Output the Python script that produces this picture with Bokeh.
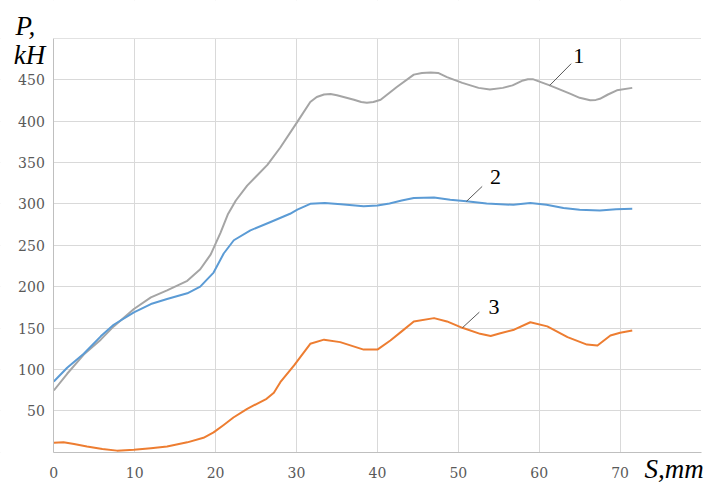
from bokeh.plotting import figure
from bokeh.models import FixedTicker, Label, BoxAnnotation
from bokeh.embed import file_html
from bokeh.resources import INLINE

# ---- data ----
s1 = [0, 1.65, 3.7, 5.8, 7.4, 9.9, 12.0, 14.0, 16.5, 18.1, 19.4, 20.6, 21.5, 22.5, 23.9, 25.0,
      26.4, 28.0, 30.1, 31.7, 32.5, 33.4, 34.2, 35.0, 37.1, 38.0, 38.7, 39.5, 40.4, 42.4, 44.5,
      45.5, 46.6, 47.5, 48.6, 50.5, 52.5, 53.9, 55.5, 56.7, 58.0, 58.6, 59.2, 60.2, 61.3, 63.8,
      65.0, 66.3, 67.0, 67.5, 68.5, 69.6, 71.5]
p1 = [74.6, 94.8, 118, 136, 152, 173, 187, 195.5, 207, 221, 239, 265, 287, 304, 322, 333,
      347, 368, 399, 423, 429, 432, 432.5, 431, 425.6, 423, 422, 423, 425.6, 441, 456,
      458, 458.5, 458, 453, 446, 440, 438, 440, 443, 449, 450.5, 450.5, 447, 443, 433,
      428, 425, 425.5, 426.8, 432, 437, 440]

s2 = [0, 1.65, 3.7, 5.8, 7.4, 9.9, 12.0, 14.0, 16.5, 18.1, 19.75, 21.0, 22.25, 24.3, 26.8,
      29.2, 30.1, 31.7, 33.5, 35.5, 38.3, 40.0, 41.5, 43.0, 44.5, 47.0, 49.0, 51.0, 53.5,
      56.8, 58.9, 60.9, 63.0, 65.0, 67.5, 69.5, 71.5]
p2 = [85.5, 102, 119, 140, 154, 169, 179, 185, 192, 200, 217, 240, 256, 268, 278,
      288, 293, 300, 301, 299.5, 297, 298, 300.5, 304, 307, 307.5, 305, 303, 300.5,
      298.8, 301, 299, 295, 292.8, 292, 293.5, 294]

s3 = [0, 1.2, 2.5, 4.1, 6.0, 7.8, 9.9, 12.0, 14.0, 16.5, 18.5, 19.75, 21.0, 22.2, 23.9, 26.3,
      27.2, 28.0, 29.7, 31.7, 33.4, 35.4, 38.3, 40.0, 41.6, 43.0, 44.5, 47.0, 48.6, 50.5,
      52.7, 54.0, 55.2, 56.9, 58.9, 61.0, 63.5, 65.9, 67.2, 68.8, 70.0, 71.5]
p3 = [11.4, 12.2, 10, 7, 4, 2, 3, 5, 7, 12, 17.5, 24, 33, 42, 52.5, 64.6,
      72, 84.6, 105, 131, 136, 133, 124, 124, 135, 146, 158, 162, 158, 150.3,
      143, 140.5, 143.8, 148, 157, 152, 139, 130, 129, 141, 144.3, 147]

x_ticks = [0, 10, 20, 30, 40, 50, 60, 70]
y_ticks = [0, 50, 100, 150, 200, 250, 300, 350, 400, 450, 500]
X_MAX = 80
Y_MAX = 500

# curve callouts
call_text = ["1", "2", "3"]
call_x0 = [61.3, 51.0, 50.5]
call_y0 = [443.0, 302.9, 150.3]
call_x1 = [63.95, 52.95, 52.6]
call_y1 = [469.2, 321.0, 169.2]
call_tx = [64.9, 54.6, 54.4]
call_ty = [478.9, 331.9, 174.9]

GRAY = "#a5a5a5"
BLUE = "#5b9bd5"
ORANGE = "#ed7d31"

# the frame covers the whole canvas; the axes sit at x=0 / y=0
p = figure(width=712, height=484, x_range=(-6.59, 81.42), y_range=(-38.9, 545.5),
           output_backend="svg", toolbar_location=None,
           min_border_left=0, min_border_right=0, min_border_top=0, min_border_bottom=0)
p.outline_line_color = None
p.background_fill_color = "white"
p.border_fill_color = "white"

p.xaxis.ticker = FixedTicker(ticks=x_ticks)
p.yaxis.ticker = FixedTicker(ticks=y_ticks)
p.yaxis.major_label_overrides = {0: "", 500: ""}
p.xaxis.fixed_location = 0
p.yaxis.fixed_location = 0
p.xaxis.bounds = (0, X_MAX)
p.yaxis.bounds = (0, Y_MAX)

for ax in (p.xaxis[0], p.yaxis[0]):
    ax.axis_line_color = "#bfbfbf"
    ax.axis_line_width = 1
    ax.major_tick_in = 0
    ax.major_tick_out = 0
    ax.minor_tick_in = 0
    ax.minor_tick_out = 0
    ax.major_label_text_font = "DejaVu Serif"
    ax.major_label_text_font_size = "14px"
    ax.major_label_text_color = "#595959"
p.yaxis.major_label_standoff = 9
p.xaxis.major_label_standoff = 15

p.xgrid.grid_line_color = "#d9d9d9"
p.ygrid.grid_line_color = "#d9d9d9"

# mask grid lines outside the plotting area
for kw in (dict(right=0), dict(left=X_MAX), dict(top=0), dict(bottom=Y_MAX)):
    p.add_layout(BoxAnnotation(**kw, fill_color="white", fill_alpha=1.0, line_color=None,
                               level="underlay"))

p.line(s1, p1, line_color=GRAY, line_width=2, line_join="round")
p.line(s2, p2, line_color=BLUE, line_width=2, line_join="round")
p.line(s3, p3, line_color=ORANGE, line_width=2, line_join="round")

p.segment(x0=call_x0, y0=call_y0, x1=call_x1, y1=call_y1, line_color="#595959", line_width=1)
for t, tx, ty in zip(call_text, call_tx, call_ty):
    p.add_layout(Label(x=tx, y=ty, text=t, text_align="center", text_baseline="alphabetic",
                       text_font="Liberation Serif", text_font_size="22px", text_color="black"))

# axis titles
for t, tx, ty in (("P,", -4.73, 515.3), ("kH", -4.94, 479.5), ("S,mm", 73.0, -20.7)):
    p.add_layout(Label(x=tx, y=ty, text=t, text_align="left", text_baseline="alphabetic",
                       text_font="Liberation Serif", text_font_style="italic",
                       text_font_size="27px", text_color="black"))

open("out.html", "w").write(file_html(p, INLINE))
